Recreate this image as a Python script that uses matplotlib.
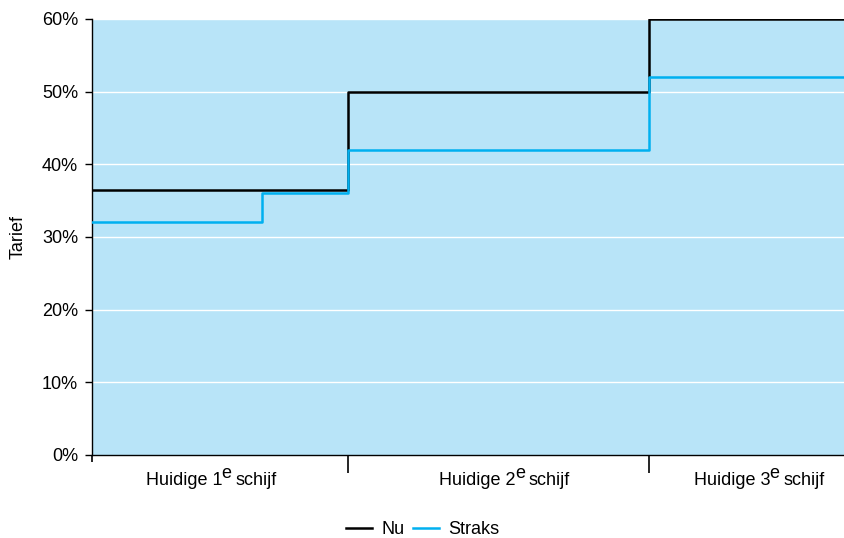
import matplotlib.pyplot as plt
import matplotlib.transforms as mtransforms

plt.rcParams['font.family'] = ['Liberation Sans', 'DejaVu Sans']

# schijfgrenzen (willekeurige inkomenseenheden)
nu_x = [0, 17, 37, 50]
nu_tarief = [36.4, 50, 60, 60]
straks_x = [0, 11.3, 17, 37, 50]
straks_tarief = [32, 36, 42, 52, 52]

schijf_grenzen = [17, 37]
schijf_nummers = ['1', '2', '3']
y_ticks = [0, 10, 20, 30, 40, 50, 60]
label_pos = [7.9, 27.4, 44.3]
fs = 13

fig = plt.figure(figsize=(8.45, 5.38), dpi=100)
ax = fig.add_axes([0.1089, 0.1543, 0.8911, 0.8104])
ax.set_facecolor('#b8e4f8')

for y in y_ticks[1:]:
    ax.axhline(y, color='white', linewidth=1, zorder=1)

ax.step(nu_x, nu_tarief, where='post', color='black', linewidth=1.8, label='Nu', zorder=3)
ax.step(straks_x, straks_tarief, where='post', color='#00b0f0', linewidth=1.8, label='Straks', zorder=4)

ax.set_xlim(0, 50)
ax.set_ylim(0, 60)
ax.set_yticks(y_ticks)
ax.set_yticklabels([f'{v}%' for v in y_ticks], fontsize=fs)
ax.tick_params(axis='y', length=5, width=1, direction='out', pad=5)
ax.set_ylabel('Tarief', fontsize=fs, labelpad=11)

ax.set_xticks([0] + schijf_grenzen)
ax.set_xticklabels([])
ax.tick_params(axis='x', which='major', length=13, width=1.2)
ax.xaxis.get_major_ticks()[0].tick1line.set_markersize(5)

for s in ['top', 'right']:
    ax.spines[s].set_visible(False)
for s in ['left', 'bottom']:
    ax.spines[s].set_linewidth(1)

# x-labels met superscript 'e' op volle grootte
fig.canvas.draw()
renderer = fig.canvas.get_renderer()
trans = mtransforms.blended_transform_factory(ax.transData, fig.transFigure)
label_y = 1 - 485 / 538
for xm, nr in zip(label_pos, schijf_nummers):
    delen = [('Huidige ' + nr, 0, -1), ('e', 5, 4), ('schijf', 0, 0)]
    texts = [ax.text(xm, label_y, d, transform=trans, fontsize=fs, va='baseline', ha='left')
             for d, _, _ in delen]
    widths = [t.get_window_extent(renderer).width + extra for t, (_, _, extra) in zip(texts, delen)]
    x0 = -sum(widths) / 2
    for t, w, (_, dy, _) in zip(texts, widths, delen):
        t.set_transform(mtransforms.offset_copy(trans, fig=fig, x=x0 * 72 / fig.dpi, y=dy, units='points'))
        x0 += w

fig.legend(loc='lower center', ncol=2, frameon=False, fontsize=fs,
           handlelength=1.45, handletextpad=0.5, columnspacing=0.45,
           bbox_to_anchor=(0.5, -0.03))

fig.savefig('out.png', dpi=100)
